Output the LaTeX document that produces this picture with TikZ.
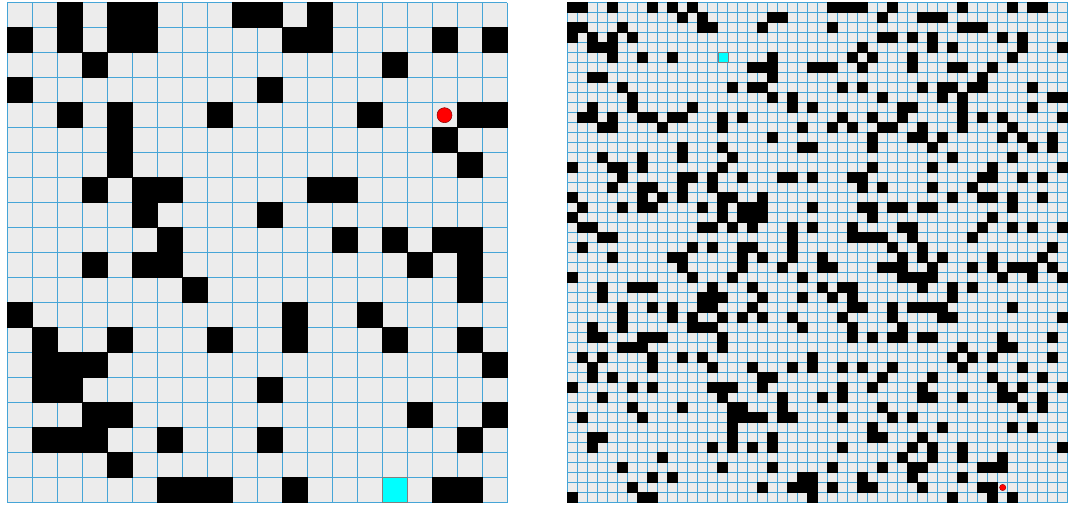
\documentclass[tikz,border=0pt]{standalone}
\definecolor{gline}{RGB}{70,165,215}
\definecolor{cellbg}{RGB}{236,236,236}
\definecolor{goalc}{RGB}{0,255,255}
\begin{document}
\begin{tikzpicture}[x=1pt,y=-1pt,
  gridline/.style={draw=gline,line width=1pt},
  gridlineS/.style={draw=gline,line width=0.7pt},
  wall/.style={fill=black},
  goal/.style={fill=goalc,draw=gray,line width=0.5pt},
  agent/.style={fill=red,draw=red!55!black,line width=0.5pt}]
\useasboundingbox[fill=white] (0,0) rectangle (1068,508);
% ---------- left maze 20x20 ----------
\def\LX{7}\def\LY{2.7}\def\LS{25}
\fill[cellbg] (\LX,\LY) rectangle (\LX+500,\LY+500);
\foreach \i in {0,...,20} {
  \draw[gridline] (\LX+\i*\LS,\LY) -- (\LX+\i*\LS,\LY+500);
  \draw[gridline] (\LX,\LY+\i*\LS) -- (\LX+500,\LY+\i*\LS);
}
\foreach \r/\cols in {0/{2,4,5,9,10,12},1/{0,2,4,5,11,12,17,19},2/{3,15},3/{0,10},
  4/{2,4,8,14,18,19},5/{4,17},6/{4,18},7/{3,5,6,12,13},8/{5,10},9/{6,13,15,17,18},
  10/{3,5,6,16,18},11/{7,18},12/{0,11,14},13/{1,4,8,11,15,18},14/{1,2,3,19},
  15/{1,2,10},16/{3,4,16,19},17/{1,2,3,6,10,18},18/{4},19/{6,7,8,11,17,18}} {
  \foreach \c in \cols {
    \fill[wall] (\LX+\c*\LS-0.5,\LY+\r*\LS-0.5) rectangle ++(\LS+1,\LS+1);
  }
}
\draw[goal] (\LX+15*\LS,\LY+19*\LS) rectangle ++(\LS,\LS);
\path[agent] (\LX+17*\LS+12.5,\LY+4*\LS+12.5) circle (7.5);
% ---------- right maze 50x50 ----------
\def\RX{567.7}\def\RY{2.5}\def\RS{10}
\fill[cellbg] (\RX,\RY) rectangle (\RX+500,\RY+500);
\foreach \i in {0,...,50} {
  \draw[gridlineS] (\RX+\i*\RS,\RY) -- (\RX+\i*\RS,\RY+500);
  \draw[gridlineS] (\RX,\RY+\i*\RS) -- (\RX+500,\RY+\i*\RS);
}
\foreach \r/\cols in {
  0/{0,1,4,8,10,12,26,27,28,29,32,39,44,46,47},
  1/{11,13,20,21,31,35,36,37},
  2/{0,1,5,13,14,19,26,39,40,41},
  3/{0,2,4,6,31,32,34,36,43,45},
  4/{2,3,4,29,36,38,45,49},
  5/{4,7,10,20,28,30,34,44},
  6/{18,19,20,24,25,26,29,34,38,39,42},
  7/{2,3,20,41},
  8/{5,16,18,19,27,29,35,37,38,40,41,46},
  9/{6,20,22,31,37,39,48,49},
  10/{2,6,12,22,24,33,34,39,46},
  11/{1,2,4,7,8,10,11,15,17,27,30,33,39,41,43,49},
  12/{3,4,9,15,23,26,28,31,32,35,39,44},
  13/{20,30,34,35,37,43,45,48},
  14/{11,15,23,24,30,36,46,48},
  15/{3,7,11,16,38,44},
  16/{0,4,5,7,15,30,36,42,49},
  17/{5,11,12,14,17,21,22,24,28,29,41,42,45,47},
  18/{4,7,8,11,14,29,31,36,40},
  19/{0,7,9,11,15,16,19,38,41,42,44,47},
  20/{1,5,7,8,13,15,17,18,19,24,29,30,32,33,35,36,44},
  21/{0,15,17,18,19,30,42},
  22/{1,2,13,14,16,18,22,24,28,33,34,41,44,46,49},
  23/{3,4,22,28,29,30,31,34,40},
  24/{1,12,14,17,18,22,32,35,48},
  25/{4,10,11,17,19,22,25,33,35,37,42,47},
  26/{11,17,21,25,26,31,32,33,36,40,42,44,45,46,48},
  27/{0,12,16,23,33,34,35,36,43,46,49},
  28/{3,6,7,8,14,18,25,27,28,35,38,40},
  29/{3,13,14,15,19,23,26,28,38},
  30/{5,8,10,13,14,18,28,29,32,34,35,36,37,44},
  31/{5,10,12,15,17,19,22,27,32,37,38,49},
  32/{2,5,12,13,14,23,28,33},
  33/{2,3,7,8,9,15,28,30,32,33,35,36,43,48},
  34/{5,6,7,15,39,43,44},
  35/{1,3,8,11,13,24,38,40,42,48},
  36/{2,8,14,18,22,24,27,29,32,39,45},
  37/{2,4,19,20,31,36,42,47},
  38/{0,6,8,14,15,16,19,27,30,35,43,45,49},
  39/{3,15,21,25,27,35,36,39,43,44,47},
  40/{6,11,16,17,21,31,45,47},
  41/{1,7,16,17,18,19,21,22,27,32,34},
  42/{16,30,37,44,46},
  43/{2,3,16,20,30,31,35},
  44/{2,14,16,18,20,27,34,36,39,49},
  45/{9,33,36,39,43},
  46/{5,15,20,26,31,34,35,41,42,43},
  47/{8,10,23,24,29,34,39},
  48/{6,19,22,23,24,26,29,30,35,41,42},
  49/{0,7,8,24,38,42,44}} {
  \foreach \c in \cols {
    \fill[wall] (\RX+\c*\RS-0.35,\RY+\r*\RS-0.35) rectangle ++(\RS+0.7,\RS+0.7);
  }
}
\draw[goal,line width=0.3pt] (\RX+15*\RS,\RY+5*\RS) rectangle ++(\RS,\RS);
\path[agent,line width=0.3pt] (\RX+43*\RS+5,\RY+48*\RS+5) circle (3.2);
\end{tikzpicture}
\end{document}
